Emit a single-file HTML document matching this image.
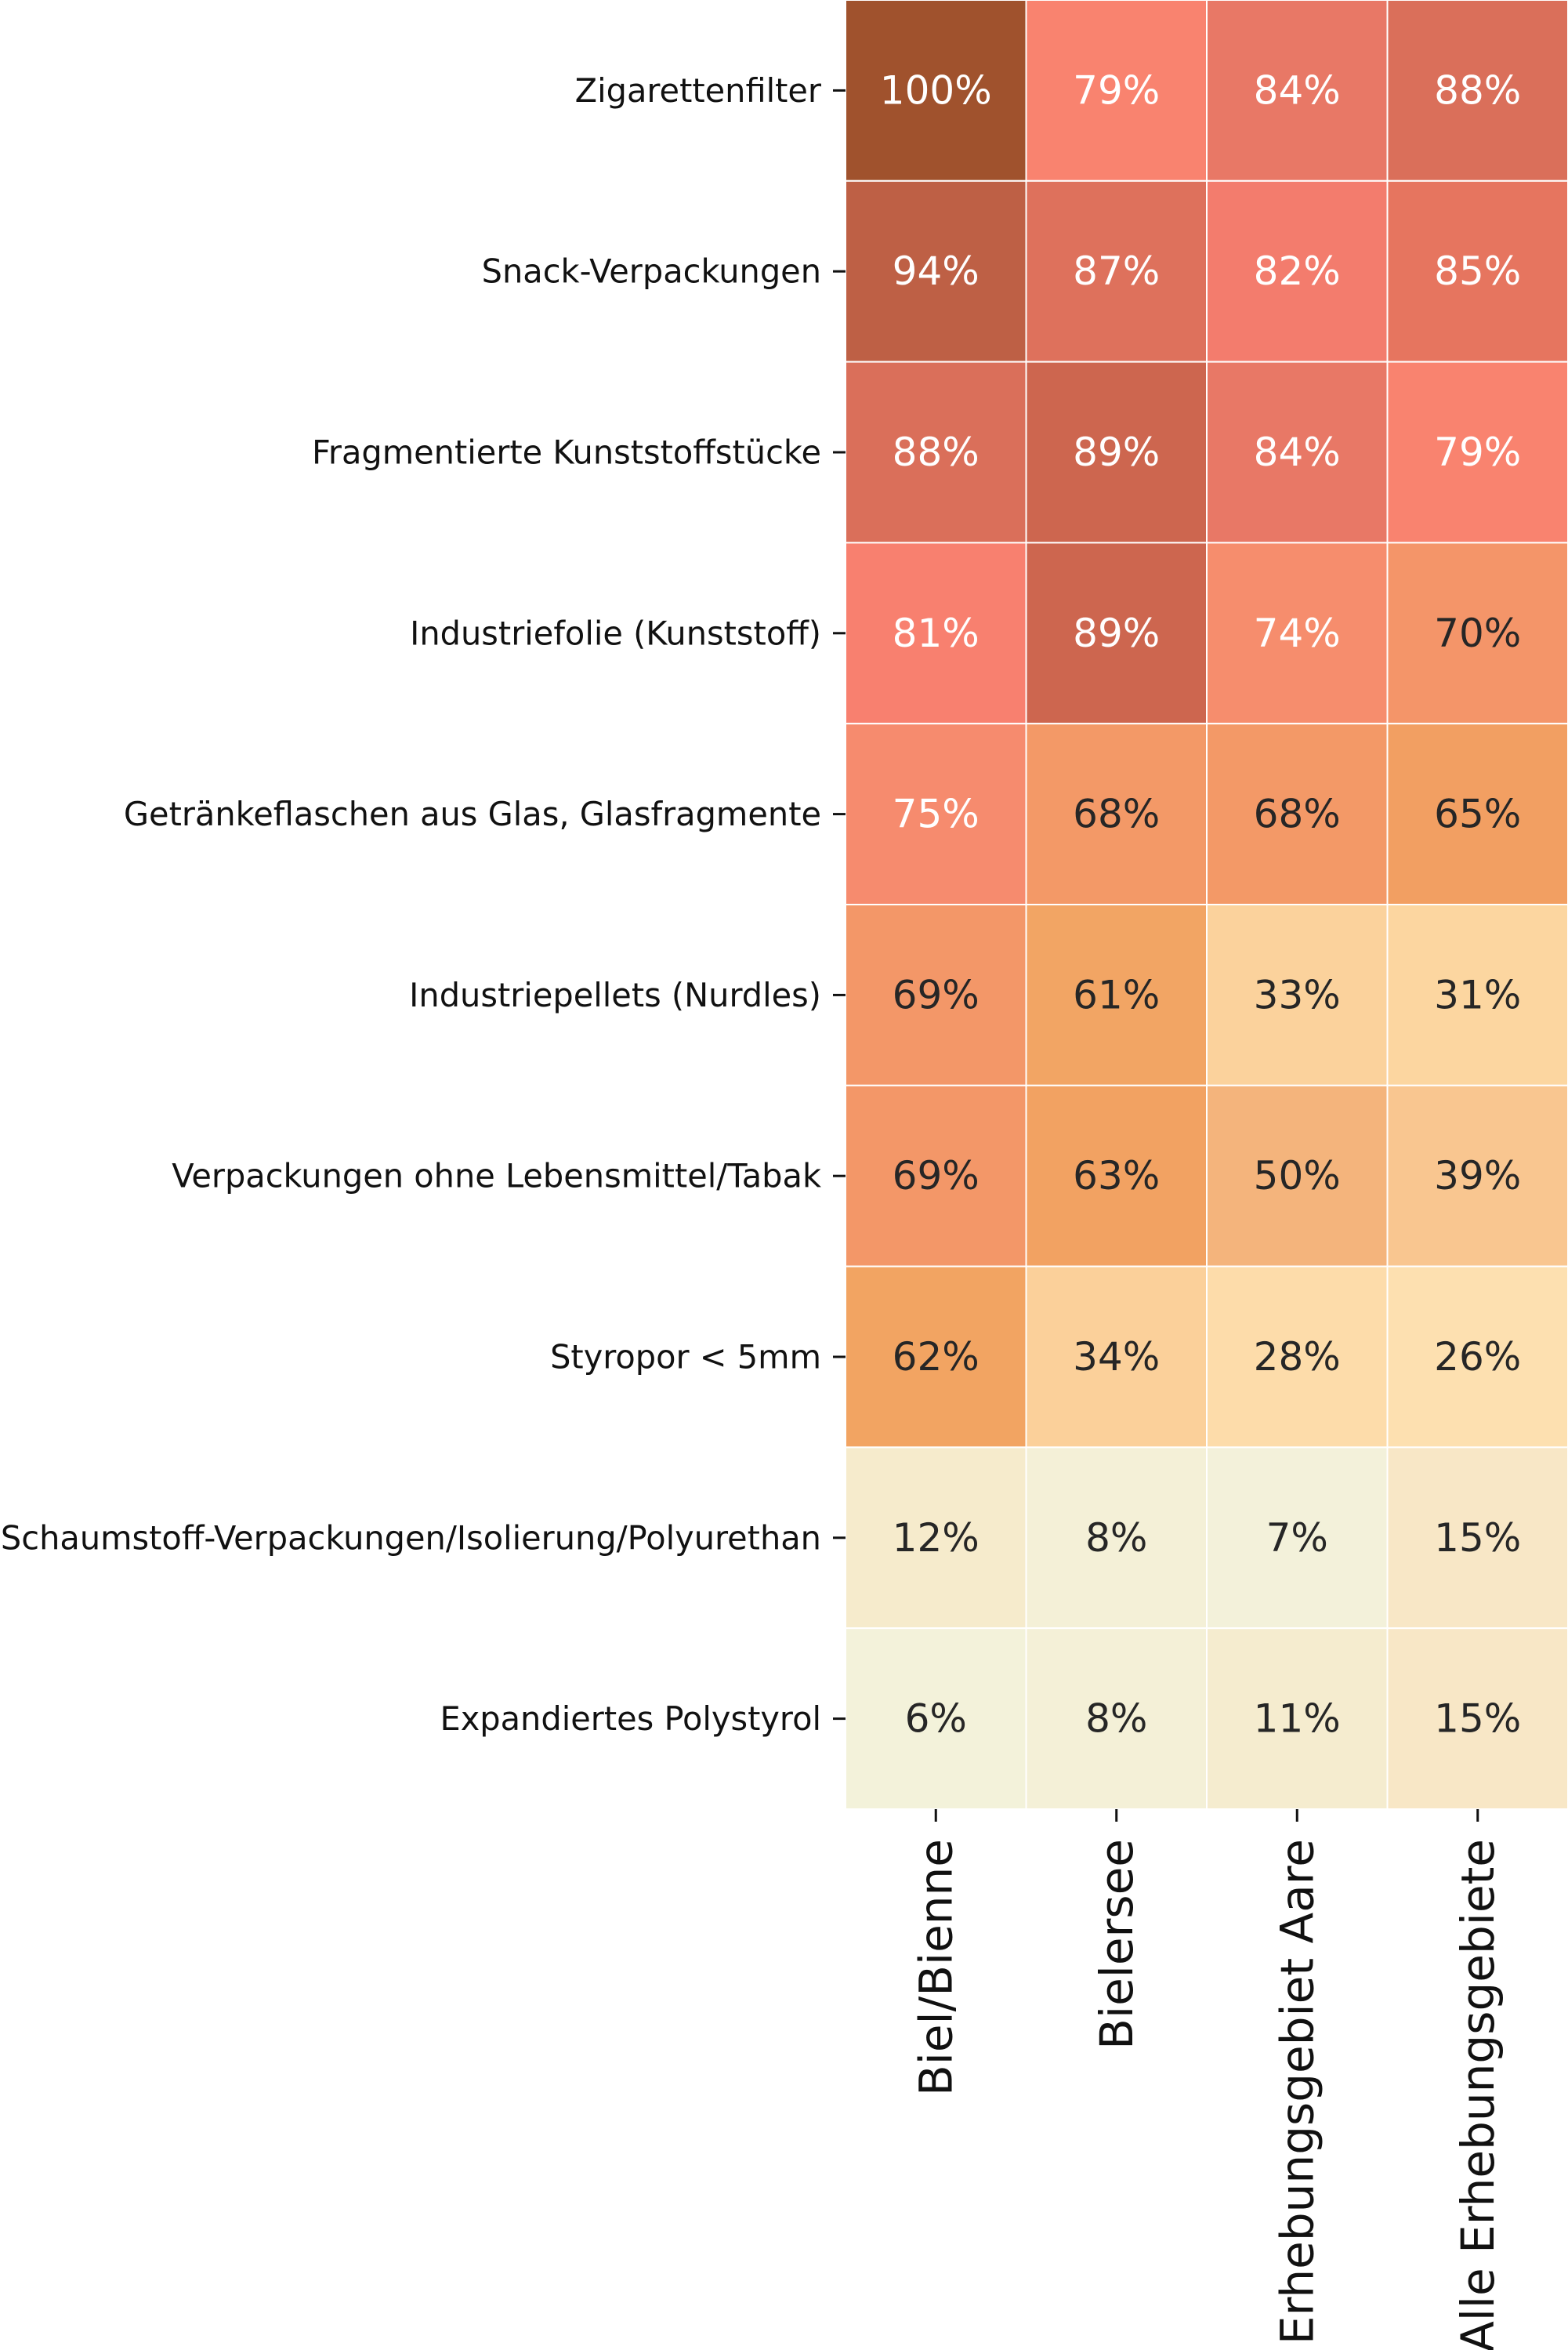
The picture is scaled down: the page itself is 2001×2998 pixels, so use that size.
<!DOCTYPE html>
<html><head><meta charset="utf-8"><style>
html,body{margin:0;padding:0;background:#fff;}
svg{display:block;font-family:"DejaVu Sans","Liberation Sans",sans-serif;}
</style></head><body>
<svg id="chart" width="2001" height="2998" viewBox="0 0 2001 2998" xmlns="http://www.w3.org/2000/svg"></svg>
<script>
const rowLabels = ["Zigarettenfilter","Snack-Verpackungen","Fragmentierte Kunststoffstücke","Industriefolie (Kunststoff)","Getränkeflaschen aus Glas, Glasfragmente","Industriepellets (Nurdles)","Verpackungen ohne Lebensmittel/Tabak","Styropor < 5mm","Schaumstoff-Verpackungen/Isolierung/Polyurethan","Expandiertes Polystyrol"];
const colLabels = ["Biel/Bienne","Bielersee","Erhebungsgebiet Aare","Alle Erhebungsgebiete"];
const colBiel = [100,94,88,81,75,69,69,62,12,6];
const colSee = [79,87,89,89,68,61,63,34,8,8];
const colAare = [84,82,84,74,68,33,50,28,7,11];
const colAlle = [88,85,79,70,65,31,39,26,15,15];
const values = [colBiel,colSee,colAare,colAlle];

const stops=[[0,"#f5f5dc"],[7,"#f3f1da"],[12,"#f6ebcc"],[15,"#f8e7c6"],[26,"#fde0b0"],[31,"#fcd6a0"],[39,"#f9c690"],[50,"#f4b47c"],[62,"#f2a462"],[65,"#f29f62"],[69,"#f39768"],[75,"#f68b6e"],[79,"#f9836f"],[81,"#f8806f"],[82,"#f37c6d"],[84,"#e87866"],[85,"#e6755f"],[88,"#da6f5a"],[89,"#cd664f"],[94,"#be6045"],[100,"#a0522d"]];
function hex(c){return [1,3,5].map(i=>parseInt(c.substr(i,2),16));}
function color(v){
  for(let i=1;i<stops.length;i++){
    if(v<=stops[i][0]){const a=stops[i-1],b=stops[i];const t=(v-a[0])/(b[0]-a[0]||1);
      const ca=hex(a[1]),cb=hex(b[1]);return "rgb("+ca.map((x,k)=>Math.round(x+(cb[k]-x)*t)).join(",")+")";}
  }
  return stops[stops.length-1][1];
}
const X0=1079,X1=2001,Y0=0,Y1=2308;
const cw=(X1-X0)/colLabels.length, rh=(Y1-Y0)/rowLabels.length;
const xPos=c=>X0+c*cw, yPos=r=>Y0+r*rh;
const svg=document.getElementById('chart');
const NS="http://www.w3.org/2000/svg";
function mk(tag,attrs,txt){const e=document.createElementNS(NS,tag);for(const k in attrs)e.setAttribute(k,attrs[k]);if(txt!==undefined)e.textContent=txt;svg.appendChild(e);return e;}
for(let c=0;c<colLabels.length;c++){
  for(let r=0;r<rowLabels.length;r++){
    const v=values[c][r];
    const rect=mk('rect',{x:xPos(c),y:yPos(r),width:cw,height:rh,fill:color(v),stroke:"#fff","stroke-width":2});
    
    
    const t=mk('text',{x:xPos(c)+cw/2,y:yPos(r)+rh/2,"font-size":50,"text-anchor":"middle","dominant-baseline":"central",fill:v>=72?"#ffffff":"#262626"},v+"%");
    
    
  }
}
for(let r=0;r<rowLabels.length;r++){
  const y=yPos(r)+rh/2;
  const tk=mk('line',{x1:X0-16,x2:X0,y1:y,y2:y,stroke:"#111","stroke-width":3});
  
  
  const t=mk('text',{x:X0-31,y:y,"font-size":41.5,"text-anchor":"end","dominant-baseline":"central",fill:"#111"},rowLabels[r]);
  
  
}
for(let c=0;c<colLabels.length;c++){
  const x=xPos(c)+cw/2;
  const tk=mk('line',{x1:x,x2:x,y1:Y1,y2:Y1+16,stroke:"#111","stroke-width":3});
  
  
  const t=mk('text',{x:0,y:0,"font-size":58,"text-anchor":"end","dominant-baseline":"central",fill:"#111",transform:"translate("+x+","+(Y1+38)+") rotate(-90)"},colLabels[c]);
  
  
}
</script>
</body></html>
